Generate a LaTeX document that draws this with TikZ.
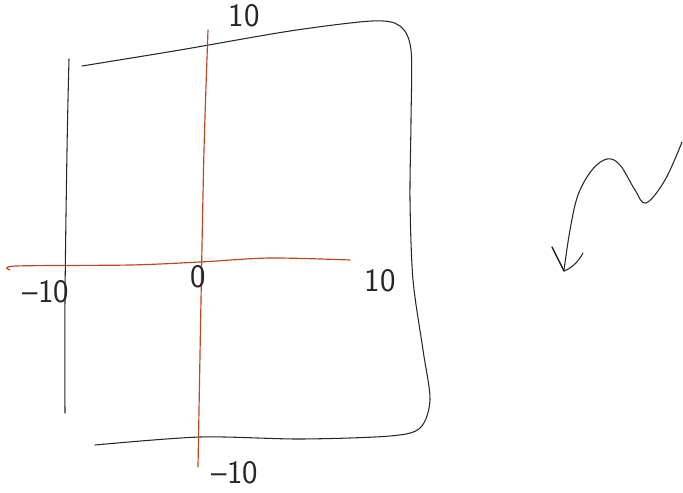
\documentclass[tikz,border=0pt]{standalone}
\usetikzlibrary{positioning}

\begin{document}
\begin{tikzpicture}[
    x=0.03cm, y=-0.03cm,
    ink/.style={draw=black!85, line width=0.9pt, line cap=round, line join=round},
    axis/.style={draw=axisred, line width=1pt, line cap=round},
    tick/.style={font=\sffamily\fontsize{28}{30}\selectfont, text=black!85, inner sep=0pt},
  ]
    \definecolor{axisred}{RGB}{186,72,34}
    \useasboundingbox (0,0) rectangle (683,492);

    % frame of the plot
    \draw[ink] plot[smooth, tension=0.6] coordinates {(69,59) (67,150) (65,300) (65,413)};
    \draw[ink] plot[smooth, tension=0.5] coordinates {(82,66) (180,50) (290,31) (372,21) (400,26) (411,50) (411,120) (410,200) (413,280) (423,350) (430,400) (420,428) (390,436) (300,439) (200,437) (95,445)};

    % axes
    \draw[axis] plot[smooth, tension=0.5] coordinates {(208,30) (204,150) (201,300) (198,467)};
    \draw[axis] plot[smooth, tension=0.5] coordinates {(10,270) (16,266) (130,265) (200,262) (270,258) (350,260)};

    % labels
    \node[tick] (ytop) at (244,16) {10};
    \node[tick] (xleft) at (46,292) {--10};
    \node[tick] (orig) at (198,277) {0};
    \node[tick] (xright) at (380,281) {10};
    \node[tick] (ybot) at (235,473) {--10};

    % squiggle arrow
    \draw[ink] plot[smooth, tension=0.6] coordinates {(682,142) (665,180) (646,203) (635,190) (620,165) (607,159) (592,170) (578,195) (570,230) (564,270)};
    \draw[ink, line width=1.2pt] (552,247) -- (564,271);
    \draw[ink] (564,271) .. controls (572,268) and (578,262) .. (583,253);
\end{tikzpicture}
\end{document}
